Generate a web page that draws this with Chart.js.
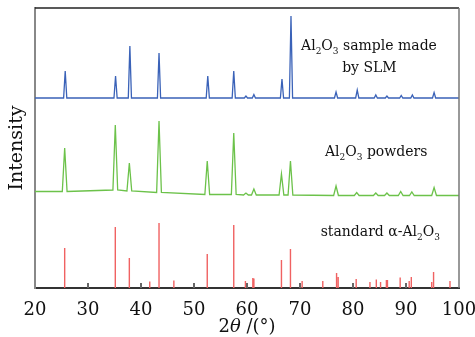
<!DOCTYPE html>
<html>
<head>
<meta charset="utf-8">
<script src="https://cdn.jsdelivr.net/npm/chart.js@4.4.1/dist/chart.umd.min.js"></script>
<style>
  html, body { margin: 0; padding: 0; background: #fff; }
  #wrap { width: 475px; height: 337px; }
</style>
</head>
<body>
<div id="wrap"><canvas id="xrd" width="475" height="337"></canvas></div>
<script>
// 2θ positions and intensities (plot units, 0..280)
const slmBase = 190;
const slmPos = [25.7, 35.2, 37.9, 43.4, 52.6, 57.5, 59.8, 61.3, 66.6, 68.3, 76.8, 80.8, 84.3, 86.4, 89.1, 91.2, 95.3];
const slmTop = [217, 212, 242, 235, 212, 217, 192, 193.5, 209, 272, 196, 198, 193, 192, 192.5, 193, 195.5];

const powPos = [25.6, 35.15, 37.8, 43.4, 52.5, 57.5, 59.8, 61.3, 66.5, 68.2, 76.8, 80.7, 84.3, 86.4, 89.0, 91.1, 95.3];
const powTop = [140, 163, 125, 167, 127, 155, 95, 99, 114, 127, 102, 95.5, 95, 95, 96.5, 96, 100.5];
const powFoot = [96.5, 98, 97, 95.5, 93.5, 93.5, 93, 93, 93, 93, 92.5, 92.5, 92.5, 92.5, 92.5, 92.5, 92.5];

const refPos = [25.6, 35.15, 37.8, 41.65, 43.4, 46.2, 52.5, 57.5, 59.7, 61.1, 61.3, 66.5, 68.2, 70.4, 74.3, 76.9, 77.2, 80.6, 83.2, 84.4, 85.2, 86.3, 86.5, 88.9, 90.6, 91.0, 94.85, 95.2, 98.3];
const refTop = [40, 61, 30, 6.5, 65, 7.5, 34, 63, 7, 10, 9.5, 28, 39, 7, 7, 15, 11, 9, 6, 8.5, 6, 8, 8, 10.5, 7, 11, 6, 16, 7];

const xTicks = [20, 30, 40, 50, 60, 70, 80, 90, 100];

function peakLine(pos, top, foot, w) {
    const pts = [{ x: 20, y: foot[0] }];
    pos.forEach((p, i) => {
        pts.push({ x: p - w, y: foot[i] });
        pts.push({ x: p, y: top[i] });
        pts.push({ x: p + w, y: foot[i] });
    });
    pts.push({ x: 100, y: foot[foot.length - 1] });
    return pts;
}

function sticks(pos, top) {
    const pts = [];
    pos.forEach((p, i) => {
        pts.push({ x: p, y: 0 });
        pts.push({ x: p, y: top[i] });
        pts.push({ x: p, y: null });
    });
    return pts;
}

const serif = "'DejaVu Serif', 'Liberation Serif', serif";

// texte, cadre et petites graduations internes
const decor = {
    id: 'decor',
    afterDraw(chart) {
        const c = chart.ctx;
        const a = chart.chartArea;
        const xs = chart.scales.x;
        c.save();
        // top and right frame
        c.strokeStyle = '#222';
        c.lineWidth = 1.5;
        c.beginPath();
        c.moveTo(a.left, a.top);
        c.lineTo(a.right, a.top);
        c.stroke();
        c.strokeStyle = '#777';
        c.beginPath();
        c.moveTo(a.right, a.top);
        c.lineTo(a.right, a.bottom);
        c.stroke();
        // inner ticks
        c.strokeStyle = '#666';
        c.lineWidth = 2;
        xTicks.slice(1, -1).forEach(t => {
            const px = xs.getPixelForValue(t);
            c.beginPath();
            c.moveTo(px, a.bottom);
            c.lineTo(px, a.bottom - 5);
            c.stroke();
        });

        c.fillStyle = '#111';
        c.textBaseline = 'alphabetic';
        c.textAlign = 'left';
        function chem(parts, x, y, size) {
            // parts: [text, isSub]
            parts.forEach(([t, sub]) => {
                c.font = (sub ? Math.round(size * 0.65) : size) + 'px ' + serif;
                c.fillText(t, x, y + (sub ? size * 0.3 : 0));
                x += c.measureText(t).width;
            });
            return x;
        }
        const fs = 14;
        chem([['Al', 0], ['2', 1], ['O', 0], ['3', 1], [' sample made', 0]], xs.getPixelForValue(70.2), 50, fs);
        c.font = fs + 'px ' + serif;
        c.textAlign = 'center';
        c.fillText('by SLM', xs.getPixelForValue(83.1), 72);
        c.textAlign = 'left';
        chem([['Al', 0], ['2', 1], ['O', 0], ['3', 1], [' powders', 0]], xs.getPixelForValue(74.7), 156, fs);
        chem([['standard α-Al', 0], ['2', 1], ['O', 0], ['3', 1]], xs.getPixelForValue(73.9), 236, fs);

        // x title: 2θ /(°)
        const ts = 18;
        c.font = ts + 'px ' + serif;
        const w1 = c.measureText('2').width;
        c.font = 'italic ' + ts + 'px ' + serif;
        const w2 = c.measureText('θ').width;
        c.font = ts + 'px ' + serif;
        const w3 = c.measureText(' /(°)').width;
        let x0 = (a.left + a.right) / 2 - (w1 + w2 + w3) / 2;
        const y0 = 332;
        c.fillText('2', x0, y0);
        c.font = 'italic ' + ts + 'px ' + serif;
        c.fillText('θ', x0 + w1, y0);
        c.font = ts + 'px ' + serif;
        c.fillText(' /(°)', x0 + w1 + w2, y0);

        // y title
        c.translate(17, (a.top + a.bottom) / 2);
        c.rotate(-Math.PI / 2);
        c.textAlign = 'center';
        c.textBaseline = 'middle';
        c.font = '19px ' + serif;
        c.fillText('Intensity', 0, 0);
        c.restore();
    }
};

new Chart(document.getElementById('xrd'), {
    type: 'line',
    data: {
        datasets: [
            {
                label: 'SLM',
                data: peakLine(slmPos, slmTop, slmPos.map(() => slmBase), 0.3),
                borderColor: '#3a62b8',
                borderWidth: 1.3
            },
            {
                label: 'powders',
                data: peakLine(powPos, powTop, powFoot, 0.45),
                borderColor: '#6cc24a',
                borderWidth: 1.3
            },
            {
                label: 'standard',
                data: sticks(refPos, refTop),
                borderColor: '#f06262',
                borderWidth: 1.4,
                spanGaps: false
            }
        ]
    },
    options: {
        responsive: false,
        animation: false,
        devicePixelRatio: 1,
        layout: { padding: { top: 8, right: 16, left: 0, bottom: 0 } },
        elements: { point: { radius: 0 }, line: { tension: 0 } },
        plugins: { legend: { display: false }, tooltip: { enabled: false } },
        scales: {
            x: {
                type: 'linear',
                min: 20,
                max: 100,
                afterBuildTicks: s => { s.ticks = xTicks.map(v => ({ value: v })); },
                afterFit: s => { s.height = 49; s.paddingLeft = 0; s.paddingRight = 0; },
                ticks: { color: '#111', padding: 12, font: { family: serif, size: 18 }, maxRotation: 0 },
                grid: { display: false, drawTicks: false },
                border: { color: '#333', width: 2 }
            },
            y: {
                min: 0,
                max: 280,
                afterFit: s => { s.width = 35; s.paddingTop = 0; s.paddingBottom = 0; },
                ticks: { display: false },
                grid: { display: false, drawTicks: false },
                border: { color: '#888', width: 2 }
            }
        }
    },
    plugins: [decor]
});
</script>
</body>
</html>
